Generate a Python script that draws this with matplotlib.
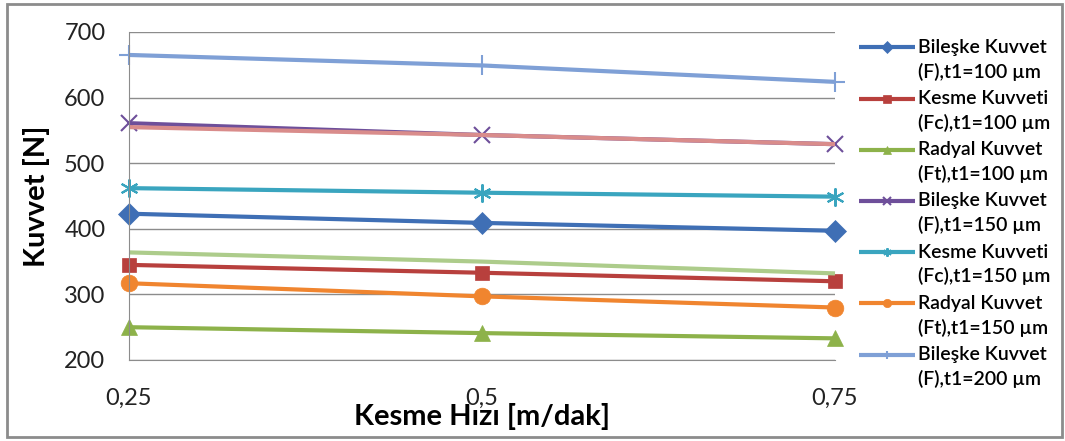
import matplotlib
matplotlib.use("Agg")
import matplotlib.pyplot as plt
from matplotlib.patches import Rectangle
from matplotlib.legend_handler import HandlerLine2D

plt.rcParams['font.family'] = ['Lato', 'DejaVu Sans']

speeds = [0.25, 0.5, 0.75]
speed_labels = ["0,25", "0,5", "0,75"]

F_100 = [423, 409, 397]
Fc_100 = [345, 333, 320]
Ft_100 = [250, 241, 233]
F_150 = [561, 543, 529]
Fc_150 = [462, 455, 449]
Ft_150 = [317, 297, 280]
F_200 = [665, 649, 624]
Fc_200 = [555, 543, 529]
Ft_200 = [364, 350, 332]

series = [
    ("Bileşke Kuvvet\n(F),t1=100 µm", F_100, "#3F6FB5", "D", 11, True),
    ("Kesme Kuvveti\n(Fc),t1=100 µm", Fc_100, "#B8403D", "s", 10, True),
    ("Radyal Kuvvet\n(Ft),t1=100 µm", Ft_100, "#8DB24A", "^", 12, True),
    ("Bileşke Kuvvet\n(F),t1=150 µm", F_150, "#6E4F9A", "x", 12, True),
    ("Kesme Kuvveti\n(Fc),t1=150 µm", Fc_150, "#3AA5BF", (6, 2, 0), 13, True),
    ("Radyal Kuvvet\n(Ft),t1=150 µm", Ft_150, "#F0852F", "o", 12, True),
    ("Bileşke Kuvvet\n(F),t1=200 µm", F_200, "#7FA0D6", "+", 14, True),
    ("Kesme Kuvveti\n(Fc),t1=200 µm", Fc_200, "#D98C8B", None, 0, False),
    ("Radyal Kuvvet\n(Ft),t1=200 µm", Ft_200, "#ADCC8B", None, 0, False),
]


class RaisedHandler(HandlerLine2D):
    def __init__(self, dy, **kw):
        super().__init__(**kw)
        self.dy = dy

    def create_artists(self, legend, orig_handle, xdescent, ydescent, width,
                       height, fontsize, trans):
        return super().create_artists(legend, orig_handle, xdescent,
                                      ydescent - 2 * self.dy, width, height,
                                      fontsize, trans)


fig = plt.figure(figsize=(10.65, 4.41), dpi=100)
W, H = 1065, 441
ax = fig.add_axes([129 / W, 1 - 360 / H, (835 - 129) / W, (360 - 32) / H])

handles = []
for label, vals, color, marker, ms, show in series:
    ln, = ax.plot(speeds, vals, color=color, lw=3, marker=marker, markersize=ms,
                  markeredgewidth=1.5 if marker in ("x", "+", (6, 2, 0)) else 0.5,
                  markeredgecolor=color, markerfacecolor=color, clip_on=False,
                  label=label, solid_capstyle='butt')
    if show:
        handles.append(ln)

ax.set_xlim(0.25, 0.75)
ax.set_ylim(200, 700)
ax.set_yticks([200, 300, 400, 500, 600, 700])
ax.set_xticks(speeds)
ax.set_xticklabels(speed_labels)
ax.grid(axis='y', color='#8c8c8c', lw=1)
ax.set_axisbelow(True)
for s in ['top', 'right']:
    ax.spines[s].set_visible(False)
ax.spines['left'].set_color('#8c8c8c')
ax.spines['bottom'].set_color('#8c8c8c')
ax.tick_params(axis='both', length=0, labelsize=17, colors='#222222')
ax.tick_params(axis='x', pad=20)
ax.tick_params(axis='y', pad=17)

ax.set_ylabel("Kuvvet [N]", fontsize=21, fontweight='bold', labelpad=10)
ax.set_xlabel("Kesme Hızı [m/dak]", fontsize=21, fontweight='bold', labelpad=-4)

handler = RaisedHandler(9)
leg = fig.legend(handles=handles, loc='upper left', bbox_to_anchor=(851 / W, 1 - 31 / H),
                 frameon=False, handlelength=2.9, handletextpad=0.15,
                 labelspacing=0.48, borderaxespad=0,
                 prop={'weight': 'semibold', 'size': 14},
                 handler_map={h: handler for h in handles})
for t in leg.get_texts():
    t.set_linespacing(1.45)
for ln in leg.get_lines():
    ln.set_markersize(6)

fig.patches.append(Rectangle((7 / W, 4 / H), (1062 - 7) / W, (437 - 4) / H,
                             transform=fig.transFigure, fill=False,
                             edgecolor='#8c8c8c', lw=2))

fig.savefig("out.png", dpi=100)
